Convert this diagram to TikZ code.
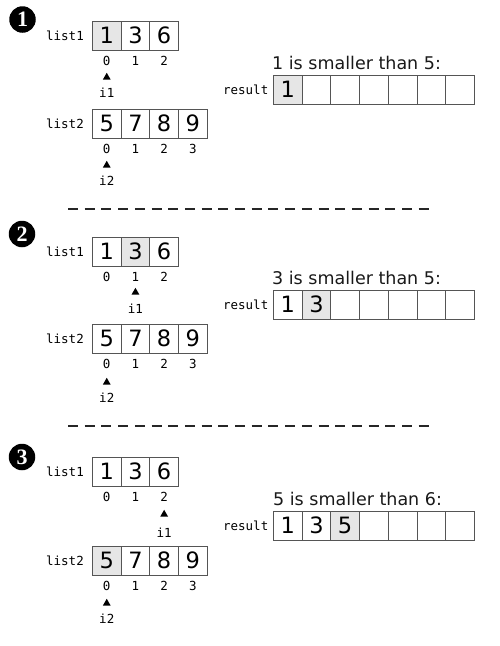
\documentclass[tikz,border=0pt]{standalone}
\usepackage{fontspec}
\setmainfont{DejaVu Sans}
\newfontfamily\monof{DejaVu Sans Mono}
\newfontfamily\numserif{Liberation Serif}
\usetikzlibrary{shapes.geometric,calc}
\definecolor{cellborder}{HTML}{555555}
\definecolor{hlgray}{HTML}{E6E6E6}
\begin{document}
\begin{tikzpicture}[x=1pt,y=-1pt,
  cell/.style={draw=cellborder, line width=0.8pt, minimum width=28.7pt, minimum height=28.5pt,
    inner sep=0pt, anchor=north west, font=\fontsize{22.5}{22.5}\selectfont},
  hl/.style={fill=hlgray},
  n/.style={},
  lbl/.style={font=\monof\fontsize{12.5}{12.5}\selectfont, inner sep=0pt},
  title/.style={font=\fontsize{17.5}{17.5}\selectfont, inner sep=0pt, anchor=west, text=black!90},
  ptr/.style={regular polygon, regular polygon sides=3, fill=black, inner sep=0pt, minimum size=9pt},
  stepnum/.style={circle, fill=black, text=white, minimum size=26.5pt, inner sep=0pt,
    font=\numserif\bfseries\fontsize{22}{22}\selectfont},
  sep/.style={dash pattern=on 10pt off 6.7pt, line width=2pt, draw=black!85}
]
\useasboundingbox (0,0) rectangle (499,646);

% ---------- generic macro for an array ----------
\newcommand\drawarr[4]{% name, x, y, value/style list
  \foreach \v/\s [count=\i from 0] in {#4} {
    \node[cell,\s] (#1-\i) at ({#2+\i*28.7},#3) {\v};
  }}
\newcommand\drawidx[2]{% name, count-1
  \foreach \i in {0,...,#2} {
    \node[lbl] (#1-idx\i) at ($(#1-\i.south)+(0,11)$) {\i};
  }}

% ================= Panel 1 =================
\node[stepnum] (s1) at (22.5,19.5) {1};
\drawarr{pa}{92}{21}{1/hl,3/n,6/n}
\drawarr{pb}{92}{109}{5/n,7/n,8/n,9/n}
\drawarr{pr}{273}{75}{1/hl,{}/n,{}/n,{}/n,{}/n,{}/n,{}/n}
\node[lbl, anchor=east] (pa-lab) at ($(pa-0.west)+(-8,0)$) {list1};
\node[lbl, anchor=east] (pb-lab) at ($(pb-0.west)+(-8,0)$) {list2};
\node[lbl, anchor=east] (pr-lab) at ($(pr-0.west)+(-4.5,0)$) {result};
\drawidx{pa}{2}
\drawidx{pb}{3}
\node[ptr] (pa-ptr) at ($(pa-0.south)+(0,27)$) {};
\node[lbl] (pa-i) at ($(pa-0.south)+(0,42.5)$) {i1};
\node[ptr] (pb-ptr) at ($(pb-0.south)+(0,27)$) {};
\node[lbl] (pb-i) at ($(pb-0.south)+(0,42.5)$) {i2};
\node[title] (pt) at (272,62.5) {1 is smaller than 5:};

\draw[sep] (68,209) -- (429,209);

% ================= Panel 2 =================
\node[stepnum] (s2) at (22,234) {2};
\drawarr{qa}{92}{237}{1/n,3/hl,6/n}
\drawarr{qb}{92}{324}{5/n,7/n,8/n,9/n}
\drawarr{qr}{273}{290}{1/n,3/hl,{}/n,{}/n,{}/n,{}/n,{}/n}
\node[lbl, anchor=east] (qa-lab) at ($(qa-0.west)+(-8,0)$) {list1};
\node[lbl, anchor=east] (qb-lab) at ($(qb-0.west)+(-8,0)$) {list2};
\node[lbl, anchor=east] (qr-lab) at ($(qr-0.west)+(-4.5,0)$) {result};
\drawidx{qa}{2}
\drawidx{qb}{3}
\node[ptr] (qa-ptr) at ($(qa-1.south)+(0,26)$) {};
\node[lbl] (qa-i) at ($(qa-1.south)+(0,42)$) {i1};
\node[ptr] (qb-ptr) at ($(qb-0.south)+(0,29)$) {};
\node[lbl] (qb-i) at ($(qb-0.south)+(0,44.5)$) {i2};
\node[title] (qt) at (272,277.5) {3 is smaller than 5:};

\draw[sep] (68,426) -- (429,426);

% ================= Panel 3 =================
\node[stepnum] (s3) at (22,457) {3};
\drawarr{ra}{92}{457}{1/n,3/n,6/n}
\drawarr{rb}{92}{546}{5/hl,7/n,8/n,9/n}
\drawarr{rr}{273}{511}{1/n,3/n,5/hl,{}/n,{}/n,{}/n,{}/n}
\node[lbl, anchor=east] (ra-lab) at ($(ra-0.west)+(-8,0)$) {list1};
\node[lbl, anchor=east] (rb-lab) at ($(rb-0.west)+(-8,0)$) {list2};
\node[lbl, anchor=east] (rr-lab) at ($(rr-0.west)+(-4.5,0)$) {result};
\drawidx{ra}{2}
\drawidx{rb}{3}
\node[ptr] (ra-ptr) at ($(ra-2.south)+(0,28)$) {};
\node[lbl] (ra-i) at ($(ra-2.south)+(0,46)$) {i1};
\node[ptr] (rb-ptr) at ($(rb-0.south)+(0,28)$) {};
\node[lbl] (rb-i) at ($(rb-0.south)+(0,43.5)$) {i2};
\node[title] (rt) at (273,498.5) {5 is smaller than 6:};
\end{tikzpicture}
\end{document}
